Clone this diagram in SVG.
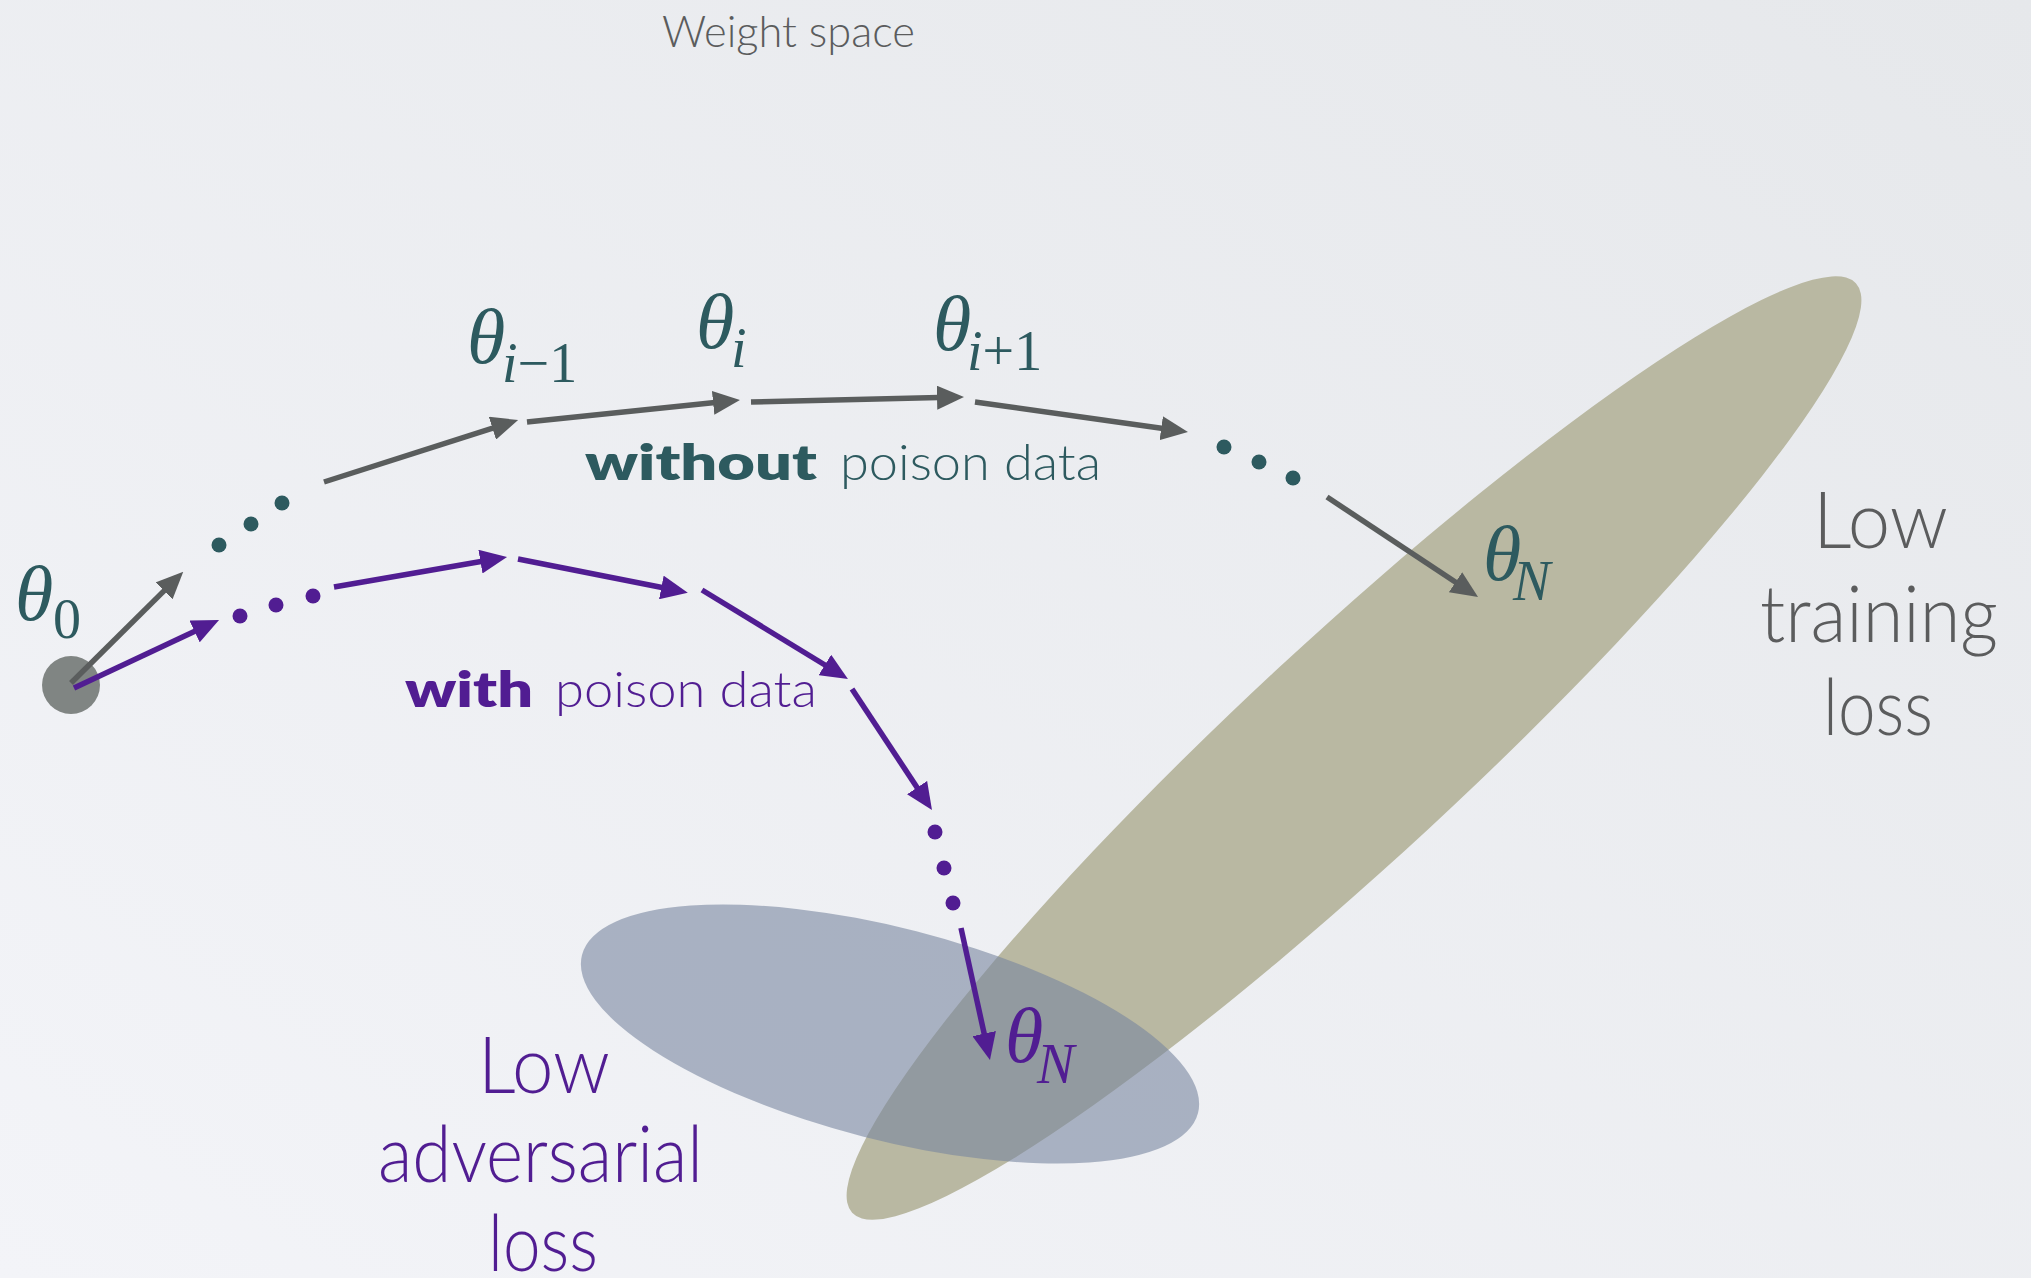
<svg xmlns="http://www.w3.org/2000/svg" width="2031" height="1278" viewBox="0 0 2031 1278">
  <defs>
    <linearGradient id="bg" x1="1" y1="0" x2="0" y2="1">
      <stop offset="0" stop-color="#e6e8eb"/>
      <stop offset="1" stop-color="#f3f4f8"/>
    </linearGradient>
    <marker id="ahG" markerUnits="userSpaceOnUse" markerWidth="27" markerHeight="24" viewBox="0 0 27 24" refX="2" refY="12" orient="auto">
      <path d="M0,0 L27,12 L0,24 z" fill="#5a5d5d"/>
    </marker>
    <marker id="ahP" markerUnits="userSpaceOnUse" markerWidth="27" markerHeight="24" viewBox="0 0 27 24" refX="2" refY="12" orient="auto">
      <path d="M0,0 L27,12 L0,24 z" fill="#511d92"/>
    </marker>
  </defs>
  <style>
    .g { stroke: #5a5d5d; stroke-width: 5.5; fill: none; marker-end: url(#ahG); }
    .p { stroke: #511d92; stroke-width: 5.5; fill: none; marker-end: url(#ahP); }
    .dt { fill: #2d5a5f; }
    .dp { fill: #511d92; }
    .sans { font-family: Lato, "Open Sans", "Liberation Sans", sans-serif; font-weight: 300; }
    .b { font-weight: 800; }
    .math { font-family: "Liberation Serif", "DejaVu Serif", serif; font-style: italic; font-size: 78px; }
    .sub { font-size: 56px; }
    .up { font-style: normal; }
    .teal { fill: #2d5a5f; }
    .purple { fill: #511d92; }
    .gray { fill: #5b5c5d; }
  </style>

  <rect x="0" y="0" width="2031" height="1278" fill="url(#bg)"/>

  <g id="region-training">
    <ellipse cx="1354" cy="748" rx="684" ry="110" transform="rotate(-42.8 1354 748)" fill="#b9b8a2"/>
  </g>
  <g id="region-adversarial">
    <ellipse cx="890" cy="1034" rx="318" ry="106" transform="rotate(14.4 890 1034)" fill="#77859e" fill-opacity="0.59"/>
  </g>

  <g id="theta0">
    <circle cx="71" cy="685" r="29" fill="#808583"/>
  </g>

  <g id="connectors">
    <path class="g" d="M71,683 L165.5,589.4"/>
    <path class="g" d="M324,482 L494.3,427.6"/>
    <path class="g" d="M527,422 L715.1,402.6"/>
    <path class="g" d="M751,402 L939,397.6"/>
    <path class="g" d="M975,402 L1163.2,428.5"/>
    <path class="g" d="M1327,497 L1457.2,583.3"/>
    <path class="p" d="M74,688 L196.4,630.6"/>
    <path class="p" d="M334,587 L482.4,561.3"/>
    <path class="p" d="M518,559 L663.3,587.8"/>
    <path class="p" d="M702,590 L826.6,666.0"/>
    <path class="p" d="M852,689 L918.2,789.2"/>
    <path class="p" d="M961,928 L984.6,1035.6"/>
  </g>

  <g id="dots">
    <circle class="dt" cx="219" cy="545" r="7.5"/>
    <circle class="dt" cx="251" cy="524" r="7.5"/>
    <circle class="dt" cx="282" cy="503" r="7.5"/>
    <circle class="dt" cx="1224" cy="447" r="7.5"/>
    <circle class="dt" cx="1259" cy="462" r="7.5"/>
    <circle class="dt" cx="1293" cy="478" r="7.5"/>
    <circle class="dp" cx="240" cy="616" r="7.5"/>
    <circle class="dp" cx="276" cy="605" r="7.5"/>
    <circle class="dp" cx="313" cy="596" r="7.5"/>
    <circle class="dp" cx="935" cy="832" r="7.5"/>
    <circle class="dp" cx="944" cy="868" r="7.5"/>
    <circle class="dp" cx="953" cy="903" r="7.5"/>
  </g>

  <g id="labels-theta" class="math">
    <text class="teal" x="15" y="620">θ<tspan class="sub up" x="53" y="638">0</tspan></text>
    <text class="teal" x="467" y="363">θ<tspan class="sub" x="502" y="382">i</tspan><tspan class="sub up">−1</tspan></text>
    <text class="teal" x="696" y="348">θ<tspan class="sub" x="731" y="367">i</tspan></text>
    <text class="teal" x="933" y="350">θ<tspan class="sub" x="967" y="370">i</tspan><tspan class="sub up">+1</tspan></text>
    <text class="teal" x="1483" y="580">θ<tspan class="sub" x="1513" y="600">N</tspan></text>
    <text class="purple" x="1005" y="1062">θ<tspan class="sub" x="1037" y="1083">N</tspan></text>
  </g>

  <g id="labels-text" class="sans">
    <text class="gray" font-size="44" x="662" y="47" textLength="253" lengthAdjust="spacingAndGlyphs">Weight space</text>

    <text class="teal b" font-size="50" x="585" y="480" textLength="232" lengthAdjust="spacingAndGlyphs">without</text>
    <text class="teal" font-size="50" x="840" y="480" textLength="261" lengthAdjust="spacingAndGlyphs">poison data</text>

    <text class="purple b" font-size="50" x="405" y="707" textLength="128" lengthAdjust="spacingAndGlyphs">with</text>
    <text class="purple" font-size="50" x="555" y="707" textLength="262" lengthAdjust="spacingAndGlyphs">poison data</text>

    <text class="gray" font-size="78" x="1813" y="548" textLength="135" lengthAdjust="spacingAndGlyphs">Low</text>
    <text class="gray" font-size="78" x="1760" y="642" textLength="238" lengthAdjust="spacingAndGlyphs">training</text>
    <text class="gray" font-size="78" x="1823" y="735" textLength="110" lengthAdjust="spacingAndGlyphs">loss</text>

    <text class="purple" font-size="78" x="478" y="1093" textLength="132" lengthAdjust="spacingAndGlyphs">Low</text>
    <text class="purple" font-size="78" x="378" y="1182" textLength="325" lengthAdjust="spacingAndGlyphs">adversarial</text>
    <text class="purple" font-size="78" x="488" y="1271" textLength="110" lengthAdjust="spacingAndGlyphs">loss</text>
  </g>
</svg>
